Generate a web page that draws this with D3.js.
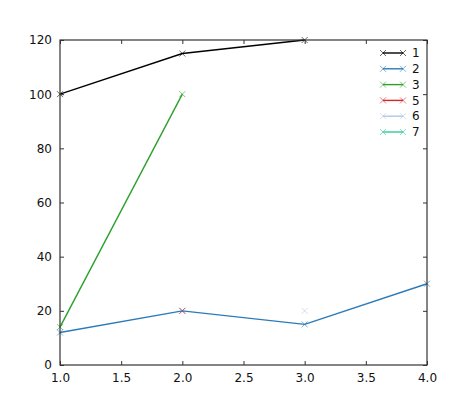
<!DOCTYPE html>
<html lang="en">
<head>
<meta charset="UTF-8">
<title>Lines</title>
<style>
  body { margin: 0; background: #fff; }
  svg { font-family: "DejaVu Sans", sans-serif; }
</style>
</head>
<body>
<svg width="474" height="406"></svg>
<script src="https://cdn.jsdelivr.net/npm/d3@7"></script>
<script>
    // series
    const names = ["1", "2", "3", "5", "6", "7"];
    const colors = ["#000000", "#2a7ab9", "#2ca02c", "#d62728", "#aec7e8", "#2ecc9b"];
    const xs1 = [1, 2, 3],    ys1 = [100, 115, 120];
    const xs2 = [1, 2, 3, 4], ys2 = [12, 20, 15, 30];
    const xs3 = [1, 2],       ys3 = [14, 100];
    const xs5 = [2],          ys5 = [20];
    const xs6 = [3],          ys6 = [20];
    const xs7 = [],           ys7 = [];
    const xTicks = [1.0, 1.5, 2.0, 2.5, 3.0, 3.5, 4.0];
    const yTicks = [0, 20, 40, 60, 80, 100, 120];

    const series = [[xs1, ys1], [xs2, ys2], [xs3, ys3], [xs5, ys5], [xs6, ys6], [xs7, ys7]]
        .map((p, i) => ({name: names[i], color: colors[i], pts: p[0].map((x, j) => [x, p[1][j]])}));

    const margin = {left: 60, top: 40, right: 47, bottom: 41};
    const width = 474, height = 406;

    const x = d3.scaleLinear().domain([1, 4]).range([margin.left, width - margin.right]);
    const y = d3.scaleLinear().domain([0, 120]).range([height - margin.bottom, margin.top]);

    const svg = d3.select("svg");

    const line = d3.line().x(d => x(d[0])).y(d => y(d[1]));

    const cross = (g, color, s) => g.append("path")
        .attr("d", `M${-s},${-s}L${s},${s}M${-s},${s}L${s},${-s}`)
        .attr("stroke", color).attr("stroke-width", 0.8).attr("stroke-opacity", 0.75).attr("fill", "none");

    const plot = svg.append("g");

    series.forEach(s => {
        if (s.pts.length > 1) {
            plot.append("path")
                .datum(s.pts)
                .attr("fill", "none")
                .attr("stroke", s.color)
                .attr("stroke-width", 1.4)
                .attr("d", line);
        }
        s.pts.forEach(p => {
            const g = plot.append("g").attr("transform", `translate(${x(p[0])},${y(p[1])})`);
            cross(g, s.color, 3);
        });
    });

    // axes, ticks inward on all sides
    const axisColor = "#333";
    svg.append("g")
        .attr("transform", `translate(0,${y(0)})`)
        .call(d3.axisBottom(x).tickValues(xTicks).tickFormat(d3.format(".1f")).tickSizeInner(-4).tickSizeOuter(0).tickPadding(8))
        .call(g => g.select(".domain").remove());
    svg.append("g")
        .attr("transform", `translate(0,${y(120)})`)
        .call(d3.axisTop(x).tickValues(xTicks).tickFormat("").tickSizeInner(-4).tickSizeOuter(0))
        .call(g => g.select(".domain").remove());
    svg.append("g")
        .attr("transform", `translate(${x(1)},0)`)
        .call(d3.axisLeft(y).tickValues(yTicks).tickSizeInner(-4).tickSizeOuter(0).tickPadding(8))
        .call(g => g.select(".domain").remove());
    svg.append("g")
        .attr("transform", `translate(${x(4)},0)`)
        .call(d3.axisRight(y).tickValues(yTicks).tickFormat("").tickSizeInner(-4).tickSizeOuter(0))
        .call(g => g.select(".domain").remove());

    svg.selectAll(".tick text").attr("font-size", 12).attr("font-family", "DejaVu Sans, sans-serif").attr("fill", "#111");
    svg.selectAll(".tick line").attr("stroke", axisColor);

    svg.append("rect")
        .attr("x", x(1)).attr("y", y(120))
        .attr("width", x(4) - x(1)).attr("height", y(0) - y(120))
        .attr("fill", "none").attr("stroke", axisColor).attr("stroke-width", 1.2);

    // legend, no frame
    const leg = svg.append("g").attr("transform", `translate(383,53)`);
    series.forEach((s, i) => {
        const row = leg.append("g").attr("transform", `translate(0,${i * 15.8})`);
        row.append("line").attr("x1", 0).attr("x2", 20).attr("y1", 0).attr("y2", 0)
            .attr("stroke", s.color).attr("stroke-width", 1.4);
        cross(row.append("g"), s.color, 3);
        cross(row.append("g").attr("transform", "translate(20,0)"), s.color, 3);
        row.append("text").attr("x", 29).attr("y", 0).attr("dy", "0.35em")
            .attr("font-size", 12).attr("fill", "#111").text(s.name);
    });
</script>
</body>
</html>
